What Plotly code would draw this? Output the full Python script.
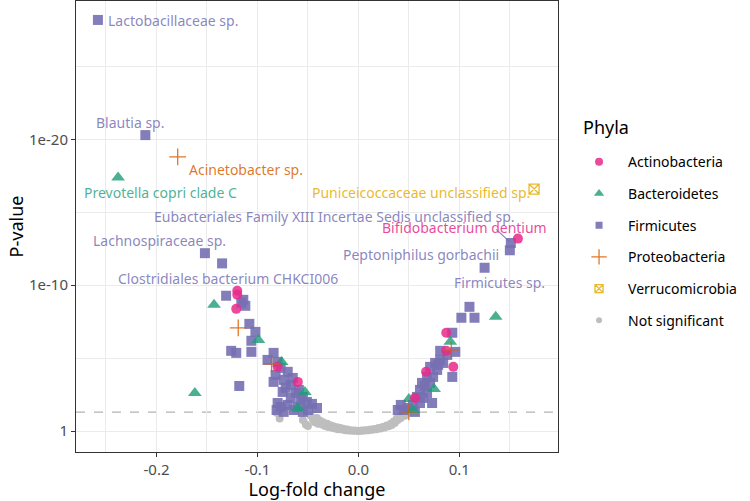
import plotly.graph_objects as go

# ---------------- data (x = log-fold change, y = -log10 P) ----------------
# Not significant (grey)
ns_lfc = [-0.081, -0.078, -0.055, -0.052, -0.050, -0.047, -0.045, -0.043, -0.041, -0.040,
          -0.038, -0.036, -0.035, -0.033, -0.031, -0.030, -0.028, -0.026, -0.025, -0.023,
          -0.021, -0.020, -0.018, -0.016, -0.015, -0.013, -0.011, -0.010, -0.008, -0.006,
          -0.004, -0.002, 0.000, 0.002, 0.004, 0.006, 0.008, 0.010, 0.012, 0.014,
          0.016, 0.018, 0.020, 0.022, 0.024, 0.026, 0.028, 0.030, 0.032, 0.033,
          0.035, 0.036, 0.038, 0.039, 0.041, 0.042, 0.044, 0.046, 0.048]
ns_nlp = [1.25, 0.85, 0.75, 0.45, 0.35, 1.05, 0.80, 0.60, 0.90, 0.50,
          0.70, 0.45, 0.60, 0.35, 0.50, 0.28, 0.40, 0.22, 0.33, 0.18,
          0.26, 0.12, 0.20, 0.10, 0.15, 0.06, 0.10, 0.04, 0.06, 0.02,
          0.03, 0.01, 0.00, 0.01, 0.03, 0.03, 0.06, 0.05, 0.10, 0.08,
          0.14, 0.12, 0.20, 0.17, 0.28, 0.24, 0.38, 0.32, 0.50, 0.42,
          0.65, 0.55, 0.85, 0.75, 1.00, 0.90, 1.15, 1.05, 1.20]

act_lfc = [-0.120, -0.120, -0.121, -0.080, -0.060, 0.158, 0.087, 0.094, 0.067, 0.056, 0.087]
act_nlp = [9.62, 9.35, 8.38, 4.40, 3.37, 13.20, 6.74, 4.40, 4.06, 2.27, 5.50]

bac_lfc = [-0.238, -0.143, -0.099, -0.162, -0.076, -0.053, -0.060, 0.136, 0.091, 0.075, 0.050, 0.054]
bac_nlp = [17.40, 8.66, 6.25, 2.61, 4.74, 2.68, 1.58, 7.84, 6.12, 2.89, 2.20, 1.44]

fir_lfc = [-0.258, -0.211, -0.152, -0.135, -0.131, -0.114, -0.112, -0.116, -0.108, -0.102,
           -0.106, -0.126, -0.121, -0.106, -0.118, -0.084, -0.090, -0.080, -0.077, -0.082,
           -0.070, -0.084, -0.074, -0.067, -0.075, -0.062, -0.055, -0.080, -0.070, -0.051,
           -0.041, -0.060, -0.050, -0.077, -0.067, -0.072, -0.059, -0.046, -0.057, -0.064,
           -0.055, -0.074, -0.081, -0.065,
           0.151, 0.150, 0.125, 0.110, 0.102, 0.115, 0.093, 0.096, 0.081, 0.088,
           0.081, 0.076, 0.084, 0.093, 0.071, 0.078, 0.068, 0.074, 0.063, 0.071,
           0.061, 0.068, 0.058, 0.064, 0.073, 0.054, 0.061, 0.042, 0.045, 0.039,
           0.056, 0.049, 0.066, 0.079]
fir_nlp = [28.20, 20.30, 12.20, 11.50, 9.28, 9.00, 8.59, 8.80, 7.35, 6.80,
           6.19, 5.50, 5.36, 5.43, 3.09, 5.36, 4.88, 4.74, 4.33, 3.85,
           4.06, 3.37, 3.51, 3.16, 2.68, 2.61, 2.34, 1.92, 1.79, 1.99,
           1.58, 1.65, 1.44, 1.65, 2.27, 2.96, 2.82, 1.86, 2.13, 1.44,
           1.31, 1.31, 1.44, 3.64,
           12.90, 12.40, 11.20, 8.52, 7.77, 7.77, 6.74, 5.43, 5.50, 5.22,
           4.88, 4.67, 4.67, 3.71, 4.40, 4.19, 3.71, 3.71, 3.30, 3.30,
           2.82, 2.61, 2.34, 2.27, 1.92, 1.79, 1.92, 1.79, 1.44, 1.44,
           1.31, 1.58, 3.09, 4.54]

pro_lfc = [-0.179, -0.119, -0.086, 0.092, 0.050]
pro_nlp = [18.80, 7.08, 4.60, 5.57, 1.32]

ver_lfc = [0.174]
ver_nlp = [16.60]

# labelled taxa
lab_text = ["Lactobacillaceae sp.", "Blautia sp.", "Acinetobacter sp.", "Prevotella copri clade C",
            "Puniceicoccaceae unclassified sp.",
            "Eubacteriales Family XIII Incertae Sedis unclassified sp.",
            "Bifidobacterium dentium", "Peptoniphilus gorbachii", "Firmicutes sp.",
            "Lachnospiraceae sp.", "Clostridiales bacterium CHKCI006"]
lab_lfc = [-0.258, -0.211, -0.179, -0.238, 0.174, 0.151, 0.158, 0.150, 0.125, -0.152, -0.135]
lab_nlp = [28.20, 20.30, 18.80, 17.40, 16.60, 12.90, 13.20, 12.40, 11.20, 12.20, 11.50]
lab_phylum = ["Firmicutes", "Firmicutes", "Proteobacteria", "Bacteroidetes", "Verrucomicrobia",
              "Firmicutes", "Actinobacteria", "Firmicutes", "Firmicutes", "Firmicutes", "Firmicutes"]

legend_names = ["Actinobacteria", "Bacteroidetes", "Firmicutes", "Proteobacteria",
                "Verrucomicrobia", "Not significant"]

y_tickvals = [0, 10, 20]
y_ticktext = ["1", "1e-10", "1e-20"]
x_tickvals = [-0.2, -0.1, 0.0, 0.1]
x_ticktext = ["-0.2", "-0.1", "0.0", "0.1"]
threshold_nlp = 1.30103  # p = 0.05

# ---------------- styling ----------------
colors = {"Actinobacteria": "rgba(231,41,138,0.85)",
          "Bacteroidetes": "rgba(27,158,119,0.8)",
          "Firmicutes": "rgba(117,112,179,0.9)",
          "Proteobacteria": "rgba(217,95,2,0.85)",
          "Verrucomicrobia": "rgba(230,171,2,0.85)",
          "Not significant": "rgba(190,190,190,1)"}
symbols = {"Actinobacteria": "circle", "Bacteroidetes": "triangle-up", "Firmicutes": "square",
           "Proteobacteria": "cross-thin-open", "Verrucomicrobia": "square-x-open",
           "Not significant": "circle"}
sizes = {"Actinobacteria": 10, "Bacteroidetes": 12, "Firmicutes": 10,
         "Proteobacteria": 12, "Verrucomicrobia": 10, "Not significant": 8}
legend_sizes = {"Actinobacteria": 8, "Bacteroidetes": 9, "Firmicutes": 7,
                "Proteobacteria": 11, "Verrucomicrobia": 8, "Not significant": 6}
text_colors = {"Actinobacteria": "rgba(231,41,138,0.85)",
               "Bacteroidetes": "rgba(27,158,119,0.8)",
               "Firmicutes": "rgba(117,112,179,0.85)",
               "Proteobacteria": "rgba(217,95,2,0.85)",
               "Verrucomicrobia": "rgba(230,171,2,0.85)"}
FONT = "Noto Sans"


def marker_for(name, size):
    if name in ("Proteobacteria", "Verrucomicrobia"):
        return dict(symbol=symbols[name], size=size, color=colors[name],
                    line=dict(color=colors[name], width=1.3))
    return dict(symbol=symbols[name], size=size, color=colors[name], line=dict(width=0))


fig = go.Figure()

series = [("Not significant", ns_lfc, ns_nlp), ("Firmicutes", fir_lfc, fir_nlp),
          ("Bacteroidetes", bac_lfc, bac_nlp), ("Actinobacteria", act_lfc, act_nlp),
          ("Proteobacteria", pro_lfc, pro_nlp), ("Verrucomicrobia", ver_lfc, ver_nlp)]
for name, xs, ys in series:
    fig.add_trace(go.Scatter(x=xs, y=ys, mode="markers", name=name, showlegend=False,
                             marker=marker_for(name, sizes[name])))

# legend-only entries (smaller keys, like the reference)
for i, name in enumerate(legend_names):
    fig.add_trace(go.Scatter(x=[None], y=[None], mode="markers", name=name, showlegend=True,
                             legendgroup=f"g{i}", legendrank=i + 1,
                             marker=marker_for(name, legend_sizes[name])))

# threshold line
fig.add_hline(y=threshold_nlp, line=dict(color="#B3B3B3", width=1.3, dash="dash"), layer="below")

# label placement (pixel offsets from the point, xanchor)
offsets = [(8, -1, "left"), (-15, 13, "center"), (9, -13, "left"), (-36, -15, "left"),
           (-2, -3, "right"), (6, 26, "right"), (31, 11, "right"), (-9, -4, "right"),
           (15, -15, "center"), (23, 13, "right"), (-106, -15, "left")]
for t, xv, yv, ph, (dx, dy, xa) in zip(lab_text, lab_lfc, lab_nlp, lab_phylum, offsets):
    fig.add_annotation(x=xv, y=yv, text=t, showarrow=False, xanchor=xa, yanchor="middle",
                       xshift=dx, yshift=dy,
                       font=dict(family=FONT, size=14, color=text_colors[ph]))

# repel segment for the Eubacteriales label
fig.add_annotation(x=lab_lfc[5], y=lab_nlp[5], text="", showarrow=True, arrowhead=0,
                   arrowwidth=1.2, arrowcolor=text_colors["Firmicutes"], ax=-16, ay=-15,
                   standoff=2)

# legend title
fig.add_annotation(xref="paper", yref="paper", x=1.048, y=0.72, xanchor="left", yanchor="middle",
                   text="Phyla", showarrow=False,
                   font=dict(family=FONT, size=18, color="#000000"))

grid = "#EBEBEB"
fig.update_xaxes(range=[-0.2797, 0.1977], tickvals=x_tickvals, ticktext=x_ticktext,
                 showgrid=True, gridcolor=grid, gridwidth=1.1, zeroline=False,
                 showline=True, mirror=True, linecolor="#333333", linewidth=1,
                 ticks="outside", ticklen=4, tickcolor="#333333", tickwidth=1,
                 tickfont=dict(family=FONT, size=15, color="#4D4D4D"),
                 minor=dict(tickvals=[-0.25, -0.15, -0.05, 0.05, 0.15], showgrid=True,
                            gridcolor=grid, gridwidth=0.55, ticklen=0),
                 title=dict(text="Log-fold change", font=dict(family=FONT, size=18, color="#000000"),
                            standoff=4))
fig.update_yaxes(range=[-1.44, 29.5], tickvals=y_tickvals, ticktext=y_ticktext,
                 showgrid=True, gridcolor=grid, gridwidth=1.1, zeroline=False,
                 showline=True, mirror=True, linecolor="#333333", linewidth=1,
                 ticks="outside", ticklen=4, tickcolor="#333333", tickwidth=1,
                 tickfont=dict(family=FONT, size=15, color="#4D4D4D"),
                 minor=dict(tickvals=[5, 15, 25], showgrid=True, gridcolor=grid,
                            gridwidth=0.55, ticklen=0),
                 title=dict(text="P-value", font=dict(family=FONT, size=18, color="#000000"),
                            standoff=0))

fig.update_layout(
    width=750, height=501,
    margin=dict(l=76, r=192, t=1, b=49),
    plot_bgcolor="white", paper_bgcolor="white",
    font=dict(family=FONT),
    showlegend=True,
    legend=dict(font=dict(family=FONT, size=14, color="#000000"),
                x=1.025, xanchor="left", y=0.678, yanchor="top",
                tracegroupgap=10.5, itemwidth=48, bgcolor="rgba(0,0,0,0)"),
)

fig.write_html("out.html")
